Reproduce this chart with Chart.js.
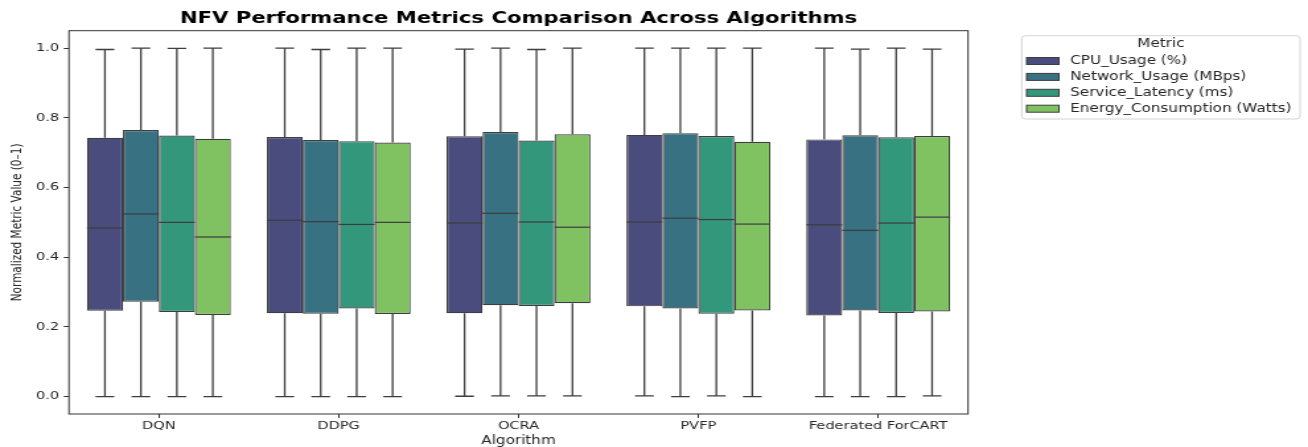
<!DOCTYPE html>
<html>
<head>
<meta charset="utf-8">
<script src="https://cdn.jsdelivr.net/npm/chart.js@4.4.1/dist/chart.umd.min.js"></script>
<style>
  html, body { margin: 0; padding: 0; background: #fff; }
  /* the reference is a horizontally stretched figure, so the canvas is too */
  #boxChart { width: 1308px !important; height: 447px !important; display: block; }
</style>
</head>
<body>
<canvas id="boxChart" width="990" height="447" style="width:1308px;height:447px;display:block"></canvas>
<script>
// five-number summaries [min, q1, median, q3, max], one per algorithm
const algorithms = ['DQN', 'DDPG', 'OCRA', 'PVFP', 'Federated ForCART'];
const metrics = ['CPU_Usage (%)', 'Network_Usage (MBps)', 'Service_Latency (ms)', 'Energy_Consumption (Watts)'];

const cpuUsage = [
  [0.000, 0.246, 0.484, 0.743, 0.996],
  [0.000, 0.239, 0.506, 0.745, 1.000],
  [0.001, 0.239, 0.498, 0.747, 0.997],
  [0.002, 0.259, 0.501, 0.751, 1.000],
  [0.000, 0.233, 0.493, 0.738, 1.000]
];
const networkUsage = [
  [0.000, 0.272, 0.524, 0.765, 1.000],
  [0.000, 0.238, 0.502, 0.736, 0.996],
  [0.002, 0.262, 0.526, 0.759, 1.000],
  [0.000, 0.253, 0.512, 0.756, 1.000],
  [0.000, 0.247, 0.477, 0.750, 0.997]
];
const serviceLatency = [
  [0.000, 0.243, 0.500, 0.749, 0.999],
  [0.000, 0.253, 0.494, 0.733, 1.000],
  [0.002, 0.260, 0.501, 0.735, 0.996],
  [0.002, 0.238, 0.508, 0.748, 1.000],
  [0.000, 0.240, 0.498, 0.744, 1.000]
];
const energyConsumption = [
  [0.000, 0.234, 0.458, 0.740, 1.000],
  [0.000, 0.237, 0.500, 0.729, 1.000],
  [0.002, 0.268, 0.486, 0.753, 1.000],
  [0.000, 0.247, 0.495, 0.731, 1.000],
  [0.002, 0.244, 0.515, 0.748, 0.997]
];
const yTicks = [0.0, 0.2, 0.4, 0.6, 0.8, 1.0];

const summaries = [cpuUsage, networkUsage, serviceLatency, energyConsumption];
const colors = ['#4a4c7e', '#377182', '#33977c', '#80c161'];
const edgeColor = '#3d3d3d';
const FONT = '"DejaVu Sans", sans-serif';

// whiskers, caps, medians, frame, title and legend
const boxPlugin = {
  id: 'boxExtras',
  afterDatasetsDraw(chart) {
    const ctx = chart.ctx;
    const y = chart.scales.y;
    ctx.save();
    ctx.strokeStyle = edgeColor;
    summaries.forEach((rows, di) => {
      const meta = chart.getDatasetMeta(di);
      meta.data.forEach((bar, i) => {
        const [mn, q1, med, q3, mx] = rows[i];
        const x = bar.x, w = bar.width, cap = w * 0.26;
        ctx.lineWidth = 1.3;
        ctx.beginPath();
        ctx.moveTo(x, y.getPixelForValue(q3));
        ctx.lineTo(x, y.getPixelForValue(mx));
        ctx.moveTo(x - cap, y.getPixelForValue(mx));
        ctx.lineTo(x + cap, y.getPixelForValue(mx));
        ctx.moveTo(x, y.getPixelForValue(q1));
        ctx.lineTo(x, y.getPixelForValue(mn));
        ctx.moveTo(x - cap, y.getPixelForValue(mn));
        ctx.lineTo(x + cap, y.getPixelForValue(mn));
        ctx.stroke();
        ctx.lineWidth = 1.2;
        ctx.beginPath();
        ctx.moveTo(x - w / 2, y.getPixelForValue(med));
        ctx.lineTo(x + w / 2, y.getPixelForValue(med));
        ctx.stroke();
      });
    });
    ctx.restore();
  },
  afterDraw(chart) {
    const ctx = chart.ctx;
    const a = chart.chartArea;
    ctx.save();
    ctx.strokeStyle = '#333';
    ctx.lineWidth = 1;
    ctx.strokeRect(a.left, a.top, a.right - a.left, a.bottom - a.top);

    ctx.fillStyle = '#000';
    ctx.font = 'bold 16px ' + FONT;
    ctx.textAlign = 'center';
    ctx.textBaseline = 'middle';
    ctx.fillText('NFV Performance Metrics Comparison Across Algorithms', (a.left + a.right) / 2, 18.5);

    // legend
    const lx = 773.3, ly = 35.7, lw = 210.7, lh = 83.3;
    ctx.fillStyle = '#fff';
    ctx.strokeStyle = '#d4d4d4';
    ctx.beginPath();
    ctx.roundRect(lx, ly, lw, lh, 3);
    ctx.fill();
    ctx.stroke();
    ctx.fillStyle = '#262626';
    ctx.font = '11.5px ' + FONT;
    ctx.fillText('Metric', lx + lw / 2, 44.3);
    ctx.textAlign = 'left';
    metrics.forEach((m, i) => {
      const ry = 61 + i * 15.9;
      ctx.fillStyle = colors[i];
      ctx.fillRect(777, ry - 3.5, 24.5, 7);
      ctx.strokeStyle = edgeColor;
      ctx.strokeRect(777, ry - 3.5, 24.5, 7);
      ctx.fillStyle = '#262626';
      ctx.fillText(m, 810, ry);
    });
    ctx.restore();
  }
};

new Chart(document.getElementById('boxChart'), {
  type: 'bar',
  data: {
    labels: algorithms,
    datasets: summaries.map((rows, i) => ({
      label: metrics[i],
      data: rows.map(r => [r[1], r[3]]),
      backgroundColor: colors[i],
      borderColor: edgeColor,
      borderWidth: 1.2,
      borderSkipped: false,
      barPercentage: 1.0,
      categoryPercentage: 0.8
    }))
  },
  plugins: [boxPlugin],
  options: {
    responsive: false,
    animation: false,
    devicePixelRatio: 1,
    layout: { padding: { left: 0, top: 30.7, right: 257.3, bottom: 0 } },
    plugins: {
      legend: { display: false },
      title: { display: false },
      tooltip: { enabled: false }
    },
    scales: {
      x: {
        grid: { offset: false, drawOnChartArea: false, drawTicks: true, tickLength: 4, color: '#333' },
        border: { display: false },
        ticks: { color: '#262626', padding: 2, font: { family: FONT, size: 11 } },
        title: {
          display: true, text: 'Algorithm', color: '#262626',
          font: { family: FONT, size: 11.5, lineHeight: 1 }, padding: { top: 0, bottom: 0.5 }
        },
        afterFit(s) { s.height = 33; }
      },
      y: {
        min: -0.05,
        max: 1.05,
        afterBuildTicks(s) { s.ticks = yTicks.map(v => ({ value: v })); },
        grid: { drawOnChartArea: false, drawTicks: true, tickLength: 4, color: '#333' },
        border: { display: false },
        ticks: {
          color: '#262626', padding: 3.5, font: { family: FONT, size: 11 },
          callback: v => v.toFixed(1)
        },
        title: {
          display: true, text: 'Normalized Metric Value (0–1)', color: '#262626',
          font: { family: FONT, size: 10.5, lineHeight: 1 }, padding: { top: 8, bottom: 0 }
        },
        afterFit(s) { s.width = 52.2; }
      }
    }
  }
});
</script>
</body>
</html>
